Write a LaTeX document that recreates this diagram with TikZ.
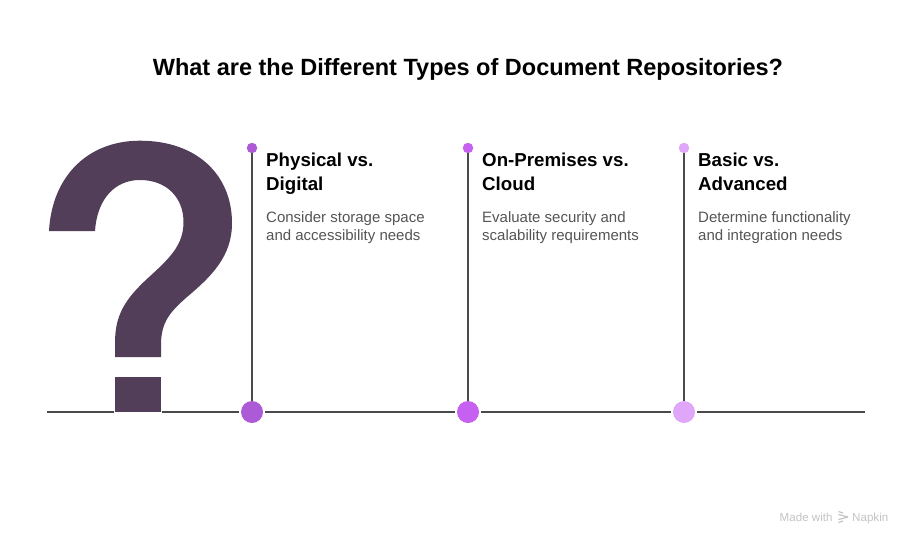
\documentclass[tikz,border=0pt]{standalone}
\usepackage{fontspec}
\setmainfont{Liberation Sans}
\definecolor{linec}{HTML}{4A4A4A}
\definecolor{qmark}{HTML}{523E58}
\definecolor{cone}{HTML}{AD5AD6}
\definecolor{ctwo}{HTML}{C660F0}
\definecolor{cthree}{HTML}{E0A6FA}
\definecolor{desc}{HTML}{555555}
\definecolor{mark}{HTML}{C4C4C4}
\tikzset{
  x=1pt,y=-1pt,
  halo/.style={circle,minimum size=26pt,inner sep=0pt,fill=white},
  bigdot/.style={circle,minimum size=22pt,inner sep=0pt},
  smalldot/.style={circle,minimum size=10.5pt,inner sep=0pt},
  conn/.style={draw=linec,line width=1.8pt},
  heading/.style={anchor=base west,inner sep=0pt,font=\fontsize{18.7}{22}\selectfont\bfseries,text=black},
  descr/.style={anchor=base west,inner sep=0pt,font=\fontsize{15}{17}\selectfont,text=desc},
}
\begin{document}
\begin{tikzpicture}
\useasboundingbox (0,0) rectangle (912,544);
\fill[white] (0,0) rectangle (912,544);
\coordinate (axisL) at (47,412);
\coordinate (axisR) at (865,412);
\draw[conn] (axisL) -- (axisR);
% question mark
\fill[white] (114,405) rectangle (162,414);
\fill[qmark] (49,231)
  .. controls (52,176) and (88,140.7) .. (140,140.7)
  .. controls (197,140.7) and (232,175) .. (232,223)
  .. controls (232,256) and (212,276) .. (187,297)
  .. controls (170,312) and (161,322) .. (161,345)
  -- (161,357) -- (115,357) -- (115,343)
  .. controls (115,316) and (124,300) .. (148,278)
  .. controls (170,258) and (183.5,245) .. (183.5,222)
  .. controls (183.5,197) and (166,180) .. (140,180)
  .. controls (114,180) and (97,200) .. (95,231)
  -- cycle;
\fill[qmark] (115,377) rectangle (161,412);
% markers
\node[halo] (g1) at (252,412) {};
\node[halo] (g2) at (468,412) {};
\node[halo] (g3) at (684,412) {};
\node[smalldot,fill=cone] (s1) at (252,148) {};
\node[smalldot,fill=ctwo] (s2) at (468,148) {};
\node[smalldot,fill=cthree] (s3) at (684,148) {};
\draw[conn] (s1) -- (g1.center);
\draw[conn] (s2) -- (g2.center);
\draw[conn] (s3) -- (g3.center);
\node[bigdot,fill=cone] (b1) at (252,412) {};
\node[bigdot,fill=ctwo] (b2) at (468,412) {};
\node[bigdot,fill=cthree] (b3) at (684,412) {};
% title
\node[inner sep=0pt,anchor=base,font=\fontsize{23.5}{28}\selectfont\bfseries,text=black] (title) at (468,75) {What are the Different Types of Document Repositories?};
% columns
\node[heading] (h1a) at (266,166.5) {Physical vs.};
\node[heading] (h1b) at (266,190.5) {Digital};
\node[descr] (d1a) at (266,222) {Consider storage space};
\node[descr] (d1b) at (266,240) {and accessibility needs};
\node[heading] (h2a) at (482,166.5) {On-Premises vs.};
\node[heading] (h2b) at (482,190.5) {Cloud};
\node[descr] (d2a) at (482,222) {Evaluate security and};
\node[descr] (d2b) at (482,240) {scalability requirements};
\node[heading] (h3a) at (698,166.5) {Basic vs.};
\node[heading] (h3b) at (698,190.5) {Advanced};
\node[descr] (d3a) at (698,222) {Determine functionality};
\node[descr] (d3b) at (698,240) {and integration needs};
% watermark
\node[anchor=base west,inner sep=0pt,font=\fontsize{11.6}{13}\selectfont,text=mark] (made) at (779.5,521) {Made with};
\node[anchor=base west,inner sep=0pt,font=\fontsize{11.6}{13}\selectfont,text=mark] (napkin) at (852,521) {Napkin};
\begin{scope}[draw=mark,line width=1.2pt]
\draw (838.5,511.5) -- (843,513);
\draw (838.5,514.5) -- (848,517);
\draw (848,517) -- (838.5,519.5);
\draw (843,521) -- (838.5,522.5);
\end{scope}
\end{tikzpicture}
\end{document}
